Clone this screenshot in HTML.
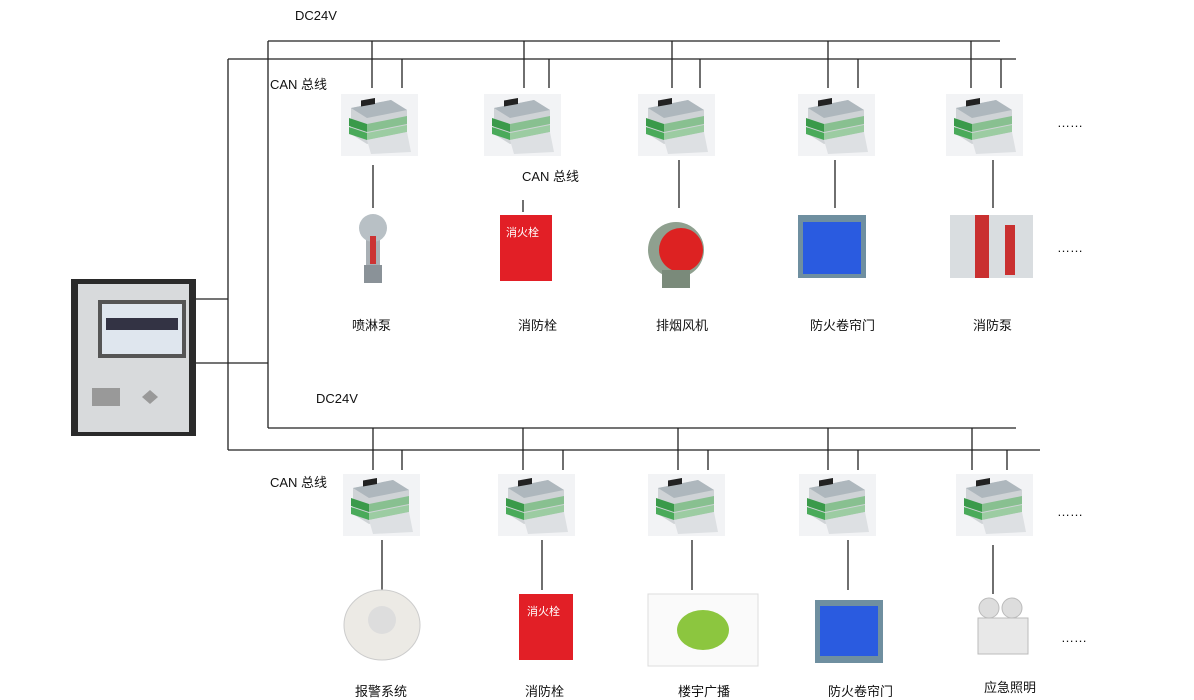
<!DOCTYPE html>
<html><head><meta charset="utf-8"><style>
body{margin:0;width:1194px;height:696px;background:#fff;position:relative;overflow:hidden;font-family:"Liberation Sans","Noto Sans CJK SC",sans-serif;}
.t{position:absolute;font-size:13px;color:#111;white-space:nowrap}
</style></head><body>
<svg width="1194" height="696" style="position:absolute;left:0;top:0">
<defs>
<g id="m">
<rect x="0" y="0" width="77" height="62" fill="#f2f3f5"/>
<polygon points="10,14 50,6 66,16 66,40 26,50 10,40" fill="#cfd3d6"/>
<polygon points="10,14 50,6 66,16 26,24" fill="#aeb7bd"/>
<rect x="20" y="10" width="14" height="6" fill="#222" transform="skewY(-10)"/>
<polygon points="8,24 26,30 26,38 8,32" fill="#3a9a4a"/>
<polygon points="8,33 26,39 26,46 8,40" fill="#4aaa5a"/>
<polygon points="26,30 66,22 66,30 26,38" fill="#88c090"/>
<polygon points="26,39 66,31 66,38 26,46" fill="#9ccca2"/>
<polygon points="26,46 66,38 70,58 30,60" fill="#dde0e3"/>
</g>
</defs>
<g stroke="#222" stroke-width="1.3" fill="none">
<path d="M268 41H1000M228 59H1016M228 59V450M268 41V428M268 428H1016M228 450H1040M196 299H228M196 363H268"/>
<path d="M372 41V88M524 41V88M672 41V88M828 41V88M971 41V88"/>
<path d="M402 59V88M549 59V88M700 59V88M858 59V88M1001 59V88"/>
<path d="M373 165V208M523 200V212M679 160V208M835 160V208M993 160V208"/>
<path d="M373 428V470M523 428V470M678 428V470M828 428V470M972 428V470"/>
<path d="M402 450V470M563 450V470M708 450V470M858 450V470M1007 450V470"/>
<path d="M382 540V590M542 540V590M692 540V590M848 540V590M993 545V594"/>
</g>
<use href="#m" x="341" y="94"/><use href="#m" x="484" y="94"/><use href="#m" x="638" y="94"/><use href="#m" x="798" y="94"/><use href="#m" x="946" y="94"/>
<use href="#m" x="343" y="474"/><use href="#m" x="498" y="474"/><use href="#m" x="648" y="474"/><use href="#m" x="799" y="474"/><use href="#m" x="956" y="474"/>
<!-- panel -->
<rect x="71" y="279" width="125" height="157" fill="#2a2a2a"/>
<rect x="78" y="284" width="111" height="148" fill="#d8dadc"/>
<rect x="98" y="300" width="88" height="58" fill="#555"/>
<rect x="102" y="304" width="80" height="50" fill="#dfe6ee"/>
<rect x="106" y="318" width="72" height="12" fill="#334"/>
<rect x="92" y="388" width="28" height="18" fill="#999"/>
<polygon points="150,390 158,397 150,404 142,397" fill="#999"/>
<!-- top devices -->
<g><rect x="366" y="230" width="14" height="52" fill="#a9b0b5"/><circle cx="373" cy="228" r="14" fill="#b8c0c5"/><rect x="370" y="236" width="6" height="28" fill="#c33"/><rect x="364" y="265" width="18" height="18" fill="#8a9298"/></g>
<rect x="500" y="215" width="52" height="66" fill="#e21f26"/>
<circle cx="676" cy="250" r="28" fill="#8fa08f"/><circle cx="681" cy="250" r="22" fill="#d22"/><rect x="662" y="270" width="28" height="18" fill="#7a8a7a"/>
<rect x="798" y="215" width="68" height="63" fill="#6f8fa0"/><rect x="803" y="222" width="58" height="52" fill="#2a5be0"/>
<rect x="950" y="215" width="83" height="63" fill="#d9dde0"/><rect x="975" y="215" width="14" height="63" fill="#c93030"/><rect x="1005" y="225" width="10" height="50" fill="#c93030"/>
<!-- bottom devices -->
<ellipse cx="382" cy="625" rx="38" ry="35" fill="#eceae5" stroke="#ccc"/><circle cx="382" cy="620" r="14" fill="#ddd"/>
<rect x="519" y="594" width="54" height="66" fill="#e21f26"/>
<rect x="648" y="594" width="110" height="72" fill="#fafafa" stroke="#ddd"/><ellipse cx="703" cy="630" rx="26" ry="20" fill="#8cc63f"/>
<rect x="815" y="600" width="68" height="63" fill="#6f8fa0"/><rect x="820" y="606" width="58" height="50" fill="#2a5be0"/>
<rect x="978" y="618" width="50" height="36" fill="#e8e8e8" stroke="#bbb"/><circle cx="989" cy="608" r="10" fill="#ddd" stroke="#bbb"/><circle cx="1012" cy="608" r="10" fill="#ddd" stroke="#bbb"/>
</svg>
<div class="t" style="left:506px;top:224px;color:#fff;font-size:11px">消火栓</div>
<div class="t" style="left:527px;top:603px;color:#fff;font-size:11px">消火栓</div>
<div class="t" style="left:295px;top:8px">DC24V</div>
<div class="t" style="left:270px;top:74px">CAN 总线</div>
<div class="t" style="left:522px;top:166px">CAN 总线</div>
<div class="t" style="left:316px;top:391px">DC24V</div>
<div class="t" style="left:270px;top:472px">CAN 总线</div>
<div class="t" style="left:1057px;top:115px">……</div>
<div class="t" style="left:1057px;top:240px">……</div>
<div class="t" style="left:1057px;top:504px">……</div>
<div class="t" style="left:1061px;top:630px">……</div>
<div class="t" style="left:352px;top:315px">喷淋泵</div>
<div class="t" style="left:518px;top:315px">消防栓</div>
<div class="t" style="left:656px;top:315px">排烟风机</div>
<div class="t" style="left:810px;top:315px">防火卷帘门</div>
<div class="t" style="left:973px;top:315px">消防泵</div>
<div class="t" style="left:355px;top:681px">报警系统</div>
<div class="t" style="left:525px;top:681px">消防栓</div>
<div class="t" style="left:678px;top:681px">楼宇广播</div>
<div class="t" style="left:828px;top:681px">防火卷帘门</div>
<div class="t" style="left:984px;top:677px">应急照明</div>
</body></html>
